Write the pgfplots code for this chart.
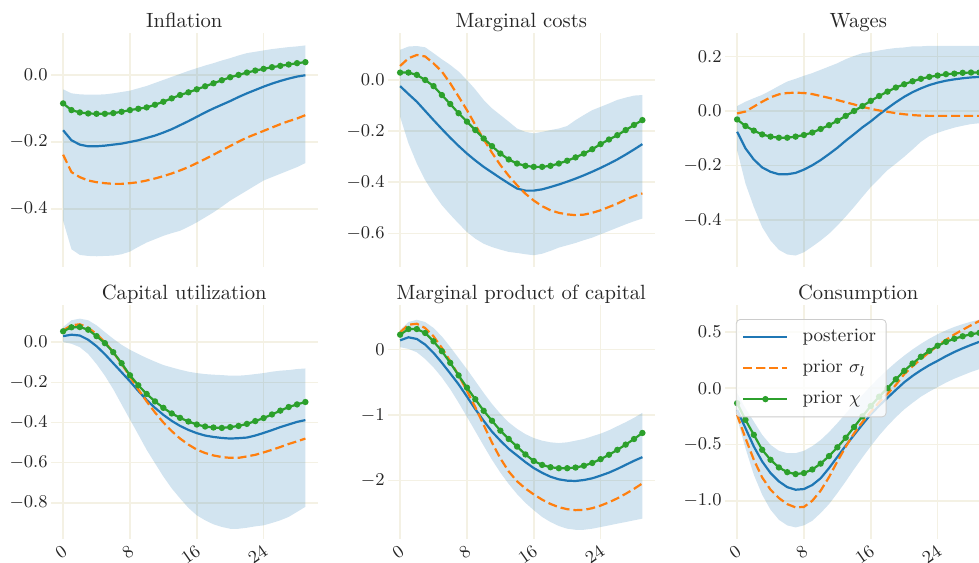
\documentclass[border=0pt]{standalone}
\usepackage{pgfplots}
\usepackage{pgfplotstable}
\pgfplotsset{compat=1.18}
\usepgfplotslibrary{fillbetween}

\definecolor{c0}{HTML}{1F77B4}
\definecolor{c1}{HTML}{FF7F0E}
\definecolor{c2}{HTML}{2CA02C}
\definecolor{gridc}{RGB}{244,241,228}
\definecolor{txt}{HTML}{262626}
\definecolor{legc}{HTML}{CCCCCC}

\newcommand\ticksz{\fontsize{9.5}{11}\selectfont}
\newcommand\titlesz{\fontsize{10.3}{12}\selectfont}

% columns: x lo hi post sig chi
\pgfplotstableread{
x lo hi post sig chi
0 -0.435 -0.043 -0.165 -0.238 -0.085
1 -0.520 -0.055 -0.195 -0.290 -0.105
2 -0.537 -0.058 -0.208 -0.305 -0.112
3 -0.540 -0.059 -0.213 -0.315 -0.115
4 -0.541 -0.059 -0.213 -0.320 -0.116
5 -0.540 -0.058 -0.211 -0.323 -0.116
6 -0.539 -0.055 -0.208 -0.325 -0.114
7 -0.535 -0.051 -0.205 -0.325 -0.110
8 -0.527 -0.047 -0.200 -0.323 -0.105
9 -0.513 -0.040 -0.195 -0.320 -0.101
10 -0.500 -0.033 -0.188 -0.315 -0.097
11 -0.490 -0.024 -0.181 -0.309 -0.089
12 -0.480 -0.015 -0.172 -0.302 -0.080
13 -0.472 -0.006 -0.162 -0.294 -0.070
14 -0.465 0.003 -0.150 -0.285 -0.060
15 -0.453 0.012 -0.138 -0.275 -0.052
16 -0.440 0.020 -0.125 -0.263 -0.043
17 -0.425 0.028 -0.112 -0.251 -0.034
18 -0.410 0.035 -0.100 -0.238 -0.025
19 -0.393 0.043 -0.089 -0.225 -0.016
20 -0.375 0.050 -0.078 -0.212 -0.007
21 -0.360 0.058 -0.066 -0.199 0.000
22 -0.345 0.065 -0.055 -0.187 0.007
23 -0.330 0.069 -0.045 -0.177 0.013
24 -0.315 0.073 -0.035 -0.167 0.018
25 -0.305 0.077 -0.026 -0.157 0.023
26 -0.295 0.080 -0.018 -0.147 0.027
27 -0.285 0.083 -0.011 -0.138 0.031
28 -0.275 0.085 -0.005 -0.130 0.035
29 -0.263 0.088 -0.001 -0.120 0.038
}\infl

\pgfplotstableread{
x lo hi post sig chi
0 -0.144 0.118 -0.024 0.055 0.029
1 -0.248 0.131 -0.055 0.085 0.029
2 -0.327 0.133 -0.085 0.098 0.020
3 -0.392 0.128 -0.121 0.092 0.000
4 -0.444 0.105 -0.157 0.065 -0.024
5 -0.490 0.081 -0.192 0.033 -0.059
6 -0.527 0.059 -0.226 -0.013 -0.094
7 -0.562 0.033 -0.258 -0.065 -0.130
8 -0.595 0.000 -0.288 -0.118 -0.163
9 -0.621 -0.037 -0.315 -0.176 -0.196
10 -0.641 -0.078 -0.340 -0.232 -0.229
11 -0.654 -0.111 -0.362 -0.285 -0.259
12 -0.664 -0.137 -0.384 -0.333 -0.288
13 -0.673 -0.163 -0.405 -0.375 -0.311
14 -0.677 -0.190 -0.425 -0.412 -0.327
15 -0.682 -0.203 -0.433 -0.445 -0.336
16 -0.686 -0.209 -0.433 -0.472 -0.340
17 -0.680 -0.203 -0.428 -0.494 -0.340
18 -0.669 -0.196 -0.419 -0.510 -0.336
19 -0.656 -0.190 -0.409 -0.520 -0.327
20 -0.647 -0.180 -0.398 -0.526 -0.316
21 -0.638 -0.157 -0.386 -0.529 -0.303
22 -0.627 -0.137 -0.373 -0.527 -0.288
23 -0.617 -0.118 -0.359 -0.520 -0.271
24 -0.604 -0.105 -0.344 -0.510 -0.251
25 -0.591 -0.092 -0.328 -0.497 -0.233
26 -0.578 -0.078 -0.311 -0.484 -0.216
27 -0.565 -0.069 -0.292 -0.468 -0.196
28 -0.553 -0.061 -0.272 -0.455 -0.176
29 -0.542 -0.059 -0.251 -0.444 -0.157
}\mcost

\pgfplotstableread{
x lo hi post sig chi
0 -0.144 0.018 -0.076 -0.009 -0.031
1 -0.266 0.034 -0.137 -0.002 -0.055
2 -0.352 0.047 -0.178 0.016 -0.072
3 -0.426 0.059 -0.207 0.034 -0.086
4 -0.475 0.075 -0.223 0.050 -0.094
5 -0.509 0.092 -0.232 0.061 -0.098
6 -0.526 0.108 -0.232 0.066 -0.098
7 -0.530 0.118 -0.227 0.067 -0.094
8 -0.518 0.129 -0.215 0.066 -0.088
9 -0.497 0.139 -0.199 0.062 -0.079
10 -0.475 0.151 -0.180 0.055 -0.066
11 -0.450 0.163 -0.158 0.048 -0.052
12 -0.420 0.175 -0.135 0.040 -0.036
13 -0.387 0.190 -0.109 0.032 -0.018
14 -0.352 0.202 -0.085 0.024 0.000
15 -0.315 0.212 -0.060 0.015 0.018
16 -0.279 0.216 -0.038 0.008 0.037
17 -0.248 0.222 -0.013 0.002 0.055
18 -0.217 0.227 0.010 -0.003 0.071
19 -0.193 0.231 0.032 -0.008 0.086
20 -0.168 0.233 0.052 -0.012 0.098
21 -0.141 0.237 0.069 -0.015 0.109
22 -0.113 0.237 0.083 -0.017 0.118
23 -0.092 0.239 0.095 -0.018 0.125
24 -0.080 0.239 0.104 -0.018 0.130
25 -0.070 0.239 0.111 -0.018 0.135
26 -0.061 0.239 0.116 -0.018 0.137
27 -0.054 0.239 0.120 -0.018 0.140
28 -0.048 0.239 0.123 -0.018 0.141
29 -0.045 0.239 0.125 -0.018 0.141
}\wages

\pgfplotstableread{
x lo hi post sig chi
0 0.000 0.075 0.030 0.059 0.054
1 -0.008 0.109 0.037 0.084 0.074
2 -0.025 0.117 0.033 0.089 0.075
3 -0.059 0.109 0.012 0.072 0.062
4 -0.109 0.084 -0.020 0.040 0.030
5 -0.167 0.050 -0.060 0.000 -0.005
6 -0.234 0.017 -0.105 -0.050 -0.050
7 -0.310 -0.013 -0.150 -0.108 -0.105
8 -0.385 -0.038 -0.195 -0.172 -0.165
9 -0.460 -0.059 -0.243 -0.235 -0.215
10 -0.536 -0.079 -0.288 -0.295 -0.258
11 -0.603 -0.097 -0.327 -0.350 -0.295
12 -0.669 -0.114 -0.362 -0.400 -0.327
13 -0.728 -0.126 -0.392 -0.443 -0.355
14 -0.778 -0.137 -0.417 -0.480 -0.377
15 -0.825 -0.147 -0.437 -0.510 -0.395
16 -0.862 -0.154 -0.453 -0.535 -0.410
17 -0.887 -0.159 -0.465 -0.552 -0.420
18 -0.907 -0.162 -0.472 -0.564 -0.425
19 -0.920 -0.164 -0.477 -0.572 -0.427
20 -0.929 -0.167 -0.480 -0.576 -0.423
21 -0.929 -0.167 -0.478 -0.576 -0.417
22 -0.924 -0.164 -0.475 -0.569 -0.407
23 -0.917 -0.159 -0.465 -0.561 -0.393
24 -0.912 -0.154 -0.452 -0.549 -0.378
25 -0.900 -0.147 -0.438 -0.536 -0.360
26 -0.887 -0.142 -0.423 -0.522 -0.341
27 -0.870 -0.139 -0.410 -0.507 -0.323
28 -0.845 -0.134 -0.397 -0.494 -0.310
29 -0.820 -0.131 -0.388 -0.480 -0.298
}\caputil

\pgfplotstableread{
x lo hi post sig chi
0 0.036 0.300 0.141 0.263 0.227
1 0.010 0.420 0.187 0.379 0.313
2 -0.041 0.455 0.162 0.394 0.313
3 -0.144 0.420 0.076 0.328 0.253
4 -0.272 0.330 -0.050 0.202 0.126
5 -0.426 0.200 -0.202 0.025 -0.025
6 -0.605 0.040 -0.364 -0.177 -0.202
7 -0.810 -0.130 -0.530 -0.394 -0.394
8 -1.026 -0.300 -0.717 -0.631 -0.581
9 -1.246 -0.480 -0.909 -0.880 -0.758
10 -1.467 -0.660 -1.086 -1.150 -0.934
11 -1.682 -0.830 -1.253 -1.420 -1.086
12 -1.877 -0.980 -1.389 -1.660 -1.237
13 -2.051 -1.110 -1.515 -1.860 -1.364
14 -2.205 -1.210 -1.616 -2.010 -1.480
15 -2.338 -1.290 -1.717 -2.120 -1.600
16 -2.451 -1.350 -1.808 -2.210 -1.700
17 -2.554 -1.390 -1.880 -2.290 -1.760
18 -2.631 -1.415 -1.940 -2.355 -1.795
19 -2.692 -1.426 -1.980 -2.405 -1.810
20 -2.733 -1.415 -2.000 -2.435 -1.810
21 -2.749 -1.390 -2.005 -2.450 -1.800
22 -2.749 -1.364 -1.990 -2.445 -1.772
23 -2.733 -1.323 -1.964 -2.420 -1.730
24 -2.708 -1.282 -1.923 -2.380 -1.672
25 -2.682 -1.231 -1.877 -2.330 -1.605
26 -2.656 -1.169 -1.821 -2.270 -1.530
27 -2.631 -1.108 -1.759 -2.200 -1.450
28 -2.605 -1.041 -1.697 -2.125 -1.365
29 -2.579 -0.964 -1.641 -2.041 -1.272
}\mpk

\pgfplotstableread{
x lo hi post sig chi
0 -0.266 -0.044 -0.192 -0.237 -0.133
1 -0.533 -0.178 -0.355 -0.444 -0.281
2 -0.769 -0.296 -0.518 -0.636 -0.414
3 -0.947 -0.414 -0.651 -0.793 -0.547
4 -1.080 -0.503 -0.754 -0.902 -0.636
5 -1.169 -0.556 -0.828 -0.976 -0.704
6 -1.219 -0.577 -0.879 -1.030 -0.746
7 -1.237 -0.577 -0.902 -1.059 -0.763
8 -1.219 -0.556 -0.896 -1.055 -0.754
9 -1.178 -0.515 -0.860 -1.000 -0.722
10 -1.109 -0.460 -0.800 -0.910 -0.670
11 -1.030 -0.390 -0.710 -0.790 -0.603
12 -0.932 -0.310 -0.610 -0.650 -0.525
13 -0.828 -0.225 -0.510 -0.520 -0.440
14 -0.719 -0.140 -0.415 -0.400 -0.345
15 -0.615 -0.060 -0.322 -0.300 -0.250
16 -0.515 0.020 -0.232 -0.210 -0.158
17 -0.420 0.095 -0.155 -0.125 -0.075
18 -0.335 0.165 -0.085 -0.050 0.000
19 -0.258 0.230 -0.015 0.030 0.080
20 -0.188 0.290 0.053 0.125 0.155
21 -0.130 0.345 0.110 0.195 0.220
22 -0.075 0.395 0.160 0.260 0.280
23 -0.030 0.440 0.205 0.320 0.332
24 0.010 0.480 0.244 0.378 0.378
25 0.050 0.515 0.285 0.430 0.412
26 0.085 0.545 0.322 0.478 0.440
27 0.115 0.570 0.355 0.520 0.462
28 0.145 0.592 0.385 0.560 0.480
29 0.170 0.610 0.413 0.598 0.492
}\cons

\pgfplotsset{
  irf/.style={
    scale only axis, width=133.25pt, height=117pt,
    xmin=-1.45, xmax=30.45,
    axis line style={draw=none},
    major tick length=0pt, tick style={draw=none},
    xtick={0,8,16,24},
    grid=major, major grid style={gridc, line width=0.75pt},
    tick label style={font=\ticksz, text=txt},
    yticklabel style={inner xsep=1.5pt},
    every axis title/.style={font=\titlesz, text=txt, at={(0.5,1)}, anchor=base, yshift=2.5pt},
    legend image code/.code={
      \draw[mark repeat=2, mark phase=2, #1] plot coordinates {(0pt,0pt) (11pt,0pt) (22pt,0pt)};
      \path (27pt,0pt);
    },
  },
  toprow/.style={irf, xticklabels={}},
  botrow/.style={irf, xticklabel style={rotate=35, anchor=north east, inner sep=1pt, yshift=-0.5pt, xshift=-1pt}},
  dec1/.style={yticklabel style={/pgf/number format/.cd, fixed, fixed zerofill, precision=1}},
  post/.style={c0, line width=1.1pt},
  sig/.style={c1, line width=1.1pt, dash pattern=on 4.5pt off 2pt},
  chi/.style={c2, line width=1.1pt, mark=*, mark size=1pt, mark options={solid, fill=c2, draw=c2}},
}

% band + three lines from one table
\newcommand\irfplots[1]{%
  \addplot[draw=none, forget plot, name path=hi] table[x=x, y=hi] {#1};
  \addplot[draw=none, forget plot, name path=lo] table[x=x, y=lo] {#1};
  \addplot[fill=c0, fill opacity=0.2, draw=none, forget plot] fill between[of=hi and lo];
  \addplot[post] table[x=x, y=post] {#1};
  \addplot[sig] table[x=x, y=sig] {#1};
  \addplot[chi] table[x=x, y=chi] {#1};
}

\begin{document}
\begin{tikzpicture}

\begin{axis}[toprow, dec1, at={(25.5pt,147.5pt)}, anchor=south west,
  title={Inflation}, ymin=-0.573, ymax=0.125, ytick={-0.4,-0.2,0}]
  \irfplots{\infl}
\end{axis}

\begin{axis}[toprow, dec1, at={(194pt,147.5pt)}, anchor=south west,
  title={Marginal costs}, ymin=-0.732, ymax=0.184, ytick={-0.6,-0.4,-0.2,0}]
  \irfplots{\mcost}
\end{axis}

\begin{axis}[toprow, dec1, at={(362.5pt,147.5pt)}, anchor=south west,
  title={Wages}, ymin=-0.572, ymax=0.286, ytick={-0.4,-0.2,0,0.2}]
  \irfplots{\wages}
\end{axis}

\begin{axis}[botrow, dec1, at={(25.5pt,11.5pt)}, anchor=south west,
  title={Capital utilization}, ymin=-0.98, ymax=0.185, ytick={-0.8,-0.6,-0.4,-0.2,0}]
  \irfplots{\caputil}
\end{axis}

\begin{axis}[botrow, at={(194pt,11.5pt)}, anchor=south west,
  title={Marginal product of capital}, ymin=-2.89, ymax=0.68, ytick={-2,-1,0}]
  \irfplots{\mpk}
\end{axis}

\begin{axis}[botrow, dec1, at={(362.5pt,11.5pt)}, anchor=south west,
  title={Consumption}, ymin=-1.34, ymax=0.74, ytick={-1,-0.5,0,0.5},
  legend cell align=left,
  legend style={at={(0.041,0.94)}, anchor=north west, font=\ticksz, text=txt,
    fill=white, fill opacity=0.8, text opacity=1, draw=legc,
    rounded corners=2pt, inner xsep=3pt, inner ysep=3pt, row sep=3.75pt}]
  \irfplots{\cons}
  \legend{posterior, prior $\sigma_l$, prior $\chi$}
\end{axis}

\pgfresetboundingbox
\path[use as bounding box] (0,0) rectangle (489.5pt,281pt);
\end{tikzpicture}
\end{document}
